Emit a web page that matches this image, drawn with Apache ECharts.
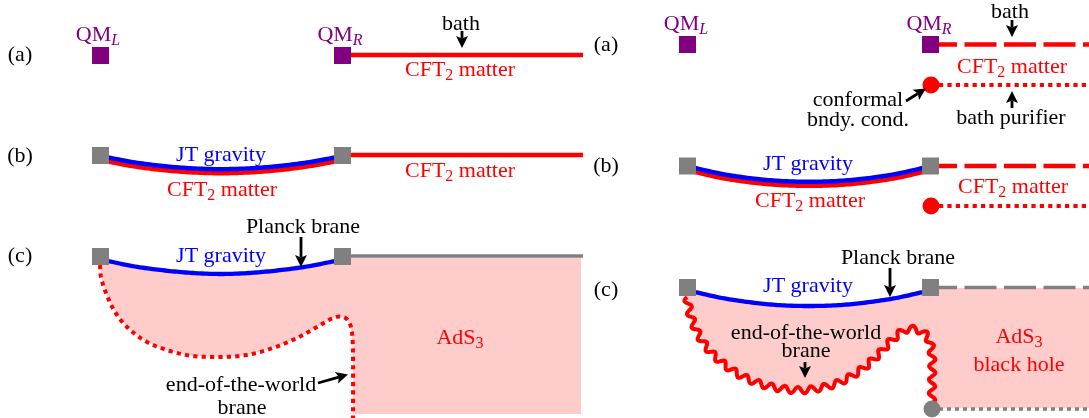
<!DOCTYPE html>
<html><head><meta charset="utf-8">
<script src="https://cdn.jsdelivr.net/npm/echarts@6/dist/echarts.min.js"></script>
<style>html,body{margin:0;padding:0;background:#fff}#c{width:1089px;height:418px}</style>
</head><body><div id="c"></div>
<script>
// ---------- data (diagram coordinates, x right / y down) ----------
const squaresQM = [[100.5,55.5],[342.5,55.5],[687.5,44.5],[930.5,44.5]];
const squaresGray = [[100.5,155.5],[342.5,155.5],[100.5,256.5],[342.5,256.5],[687.5,166],[930.5,166],[687.5,287.5],[930.5,287.5]];
const dotsRed = [[931,85],[931,206]];
const dotsGray = [[932,409]];

const bathLeftA = [[351,55],[583,55]];
const bathLeftB = [[351,155],[583,155]];
const boundaryLeftC = [[351,256],[583,256]];
const bathRightA = [[939,44.5],[1089,44.5]];
const purifierRightA = [[939,85],[1089,85]];
const bathRightB = [[939,166],[1089,166]];
const purifierRightB = [[939,206],[1089,206]];
const boundaryRightC = [[939,287.5],[1089,287.5]];
const horizonRightC = [[939,409],[1089,409]];

const jtLeftB = [[108,157.5],[135,162.5],[165,166.3],[193,168.4],[221,169.2],[249,168.4],[277,166.3],[307,162.5],[335,157.5]];
const matterLeftB = [[108,161.5],[135,166.5],[165,170.3],[193,172.4],[221,173.2],[249,172.4],[277,170.3],[307,166.5],[335,161.5]];
const jtRightB = [[695,168],[722,174],[752,178.5],[780,181],[809,181.8],[838,181],[866,178.5],[896,174],[923,168]];
const matterRightB = [[695,172],[722,178],[752,182.5],[780,185],[809,185.8],[838,185],[866,182.5],[896,178],[923,172]];
const jtLeftC = [[108,261],[135,266.5],[165,270.5],[193,273],[221,274],[249,273],[277,270.5],[307,266.5],[335,261]];
const jtRightC = [[695,292],[722,298],[752,302.5],[780,305.2],[809,306],[838,305.2],[866,302.5],[896,298],[923,292]];

const eowLeft = [[100,265],[101,277],[106,293],[115,312],[128,328],[147,342],[170,351],[193,356],[220,357],[247,355],[273,348],[297,338],[317,327],[333,318],[343,317],[349,322],[352,333],[353,357],[353,420]];
const eowRight = [[687,297],[692,320],[705,345],[725,365],[750,380],[778,388],[806,390],[835,384],[858,372],[876,357],[891,341],[905,330],[918,330],[928,338],[932,355],[932,385],[932,405]];

const pinkLeftCorners = [[342,258],[581,258],[581,414],[353,414]];
const pinkRightCorners = [[930,288],[1089,288],[1089,408],[934,408]];

const arrows = [
  [462,31,462,48],
  [301,237,301,267],
  [318,383,348,374.5],
  [1012,20,1012,37],
  [1012,108,1012,91],
  [906,101,926,88.5],
  [890,268,890,297],
  [805,362,805,378]
];

const panelLabels = ['(a)','(b)','(c)','(a)','(b)','(c)'];
const panelLabelPos = [[20,55],[20,156],[20,256],[606,45],[606,166],[606,290]];
const blackTexts = ['bath','Planck brane','end-of-the-world','brane','bath','conformal','bndy. cond.','bath purifier','Planck brane','end-of-the-world','brane'];
const blackTextPos = [[461,24],[303,227],[241,385],[242,408],[1010,12],[858,100],[858,120],[1011,118],[898,258],[806,333],[806,351]];
const redTexts = ['CFT{s|2} matter','CFT{s|2} matter','CFT{s|2} matter','CFT{s|2} matter','CFT{s|2} matter','CFT{s|2} matter','AdS{s|3}','AdS{s|3}','black hole'];
const redTextPos = [[460,70],[222,190],[460,171],[1012,67],[810,201],[1013,187],[460,338],[1019,337],[1019,365]];
const blueTexts = ['JT gravity','JT gravity','JT gravity','JT gravity'];
const blueTextPos = [[221,155],[221,256],[808,164],[808,286]];
const purpleTexts = ['QM{i|L}','QM{i|R}','QM{i|L}','QM{i|R}'];
const purpleTextPos = [[98,35],[340,35],[686,24],[929,24]];

// ---------- styling / rendering ----------
const FONT = '"Liberation Serif","Times New Roman",serif';
const FS = 22;
const RED = '#ff0000', BLUE = '#0000ff', GRAY = '#808080', PURPLE = '#800080', PINK = '#ffcccc';

function richFor(color){
  return {
    s:{fontSize:16,fontFamily:FONT,fill:color,padding:[11,0,0,0]},
    i:{fontSize:16,fontFamily:FONT,fontStyle:'italic',fill:color,padding:[11,0,0,0]}
  };
}
function textSeries(texts,pos,color){
  return {type:'custom',coordinateSystem:'cartesian2d',silent:true,z:20,animation:false,
    data:pos.map(p=>[p[0],p[1]]),
    renderItem(params,api){
      const c=api.coord([api.value(0),api.value(1)]);
      return {type:'text',x:c[0],y:c[1],style:{text:texts[params.dataIndex],fill:color,fontSize:FS,fontFamily:FONT,align:'center',verticalAlign:'middle',rich:richFor(color)}};
    }};
}
function lineSeries(data,style,z){
  return {type:'line',data:data,showSymbol:false,symbol:'none',silent:true,animation:false,z:z||3,lineStyle:style};
}
function catmull(base,steps){
  const out=[];
  for(let i=0;i<base.length-1;i++){
    const p0=base[Math.max(i-1,0)],p1=base[i],p2=base[i+1],p3=base[Math.min(i+2,base.length-1)];
    for(let k=0;k<steps;k++){
      const t=k/steps,t2=t*t,t3=t2*t;
      const f=j=>0.5*((2*p1[j])+(-p0[j]+p2[j])*t+(2*p0[j]-5*p1[j]+4*p2[j]-p3[j])*t2+(-p0[j]+3*p1[j]-3*p2[j]+p3[j])*t3);
      out.push([f(0),f(1)]);
    }
  }
  out.push(base[base.length-1]);
  return out;
}
function curveSeries(data,style,z){
  return {type:'custom',coordinateSystem:'cartesian2d',silent:true,z:z||4,animation:false,data:[[0,0]],
    renderItem(params,api){
      const pts=catmull(data.map(p=>api.coord(p)),12);
      return {type:'polyline',shape:{points:pts},style:Object.assign({fill:null,lineJoin:'round',lineCap:'butt'},style)};
    }};
}
function polySeries(getPts){
  return {type:'custom',coordinateSystem:'cartesian2d',silent:true,z:1,animation:false,data:[[0,0]],
    renderItem(params,api){
      const pts=getPts().map(p=>api.coord(p));
      return {type:'polygon',shape:{points:pts},style:{fill:PINK}};
    }};
}

const option = {
  animation:false,
  grid:{left:0,right:0,top:0,bottom:0},
  xAxis:{type:'value',min:0,max:1089,show:false},
  yAxis:{type:'value',min:0,max:418,inverse:true,show:false},
  series:[
    polySeries(()=>[[100,262]].concat(jtLeftC,pinkLeftCorners,eowLeft.slice(0,-1).reverse())),
    polySeries(()=>[[687,293]].concat(jtRightC,pinkRightCorners,eowRight.slice().reverse())),

    lineSeries(bathLeftA,{color:RED,width:4.3}),
    lineSeries(bathLeftB,{color:RED,width:4.3}),
    lineSeries(boundaryLeftC,{color:GRAY,width:3.5}),
    lineSeries(bathRightA,{color:RED,width:4.3,type:[32,7.5],dashOffset:14,cap:'butt'}),
    lineSeries(purifierRightA,{color:RED,width:4,type:[4.2,4.2],cap:'butt'}),
    lineSeries(bathRightB,{color:RED,width:4.3,type:[32,7.5],dashOffset:14,cap:'butt'}),
    lineSeries(purifierRightB,{color:RED,width:4,type:[4.2,4.2],cap:'butt'}),
    lineSeries(boundaryRightC,{color:GRAY,width:3.5,type:[32,7.5],dashOffset:14,cap:'butt'}),
    lineSeries(horizonRightC,{color:GRAY,width:3.5,type:[4,4],cap:'butt'}),

    curveSeries(matterLeftB,{stroke:RED,lineWidth:4.5},3),
    curveSeries(jtLeftB,{stroke:BLUE,lineWidth:4.5},4),
    curveSeries(matterRightB,{stroke:RED,lineWidth:4.5},3),
    curveSeries(jtRightB,{stroke:BLUE,lineWidth:4.5},4),
    curveSeries(jtLeftC,{stroke:BLUE,lineWidth:4.3},4),
    curveSeries(jtRightC,{stroke:BLUE,lineWidth:4.3},4),
    curveSeries(eowLeft,{stroke:RED,lineWidth:4,lineDash:[4.2,4.2]},4),

    {type:'custom',coordinateSystem:'cartesian2d',silent:true,z:4,animation:false,data:[[0,0]],
      renderItem(params,api){
        const base=eowRight.map(p=>api.coord(p));
        const dense=catmull(base,24);
        const out=[];let s=0;const A=3.2,LAM=13.5;
        for(let i=0;i<dense.length;i++){
          if(i>0)s+=Math.hypot(dense[i][0]-dense[i-1][0],dense[i][1]-dense[i-1][1]);
          const a=dense[Math.max(i-1,0)],b=dense[Math.min(i+1,dense.length-1)];
          let tx=b[0]-a[0],ty=b[1]-a[1];const L=Math.hypot(tx,ty)||1;tx/=L;ty/=L;
          const off=A*Math.sin(2*Math.PI*s/LAM);
          out.push([dense[i][0]-ty*off,dense[i][1]+tx*off]);
        }
        return {type:'polyline',shape:{points:out,smooth:0.3},style:{stroke:RED,lineWidth:4,fill:null,lineJoin:'round'}};
      }},

    {type:'scatter',data:squaresQM,symbol:'rect',symbolSize:17,itemStyle:{color:PURPLE,opacity:1},silent:true,z:8,animation:false},
    {type:'scatter',data:squaresGray,symbol:'rect',symbolSize:17,itemStyle:{color:GRAY,opacity:1},silent:true,z:8,animation:false},
    {type:'scatter',data:dotsRed,symbol:'circle',symbolSize:17,itemStyle:{color:RED,opacity:1},silent:true,z:8,animation:false},
    {type:'scatter',data:dotsGray,symbol:'circle',symbolSize:17,itemStyle:{color:GRAY,opacity:1},silent:true,z:8,animation:false},

    {type:'custom',coordinateSystem:'cartesian2d',silent:true,z:9,animation:false,
      data:arrows,dimensions:['x1','y1','x2','y2'],encode:{x:[0,2],y:[1,3]},
      renderItem(params,api){
        const a=api.coord([api.value(0),api.value(1)]),b=api.coord([api.value(2),api.value(3)]);
        const dx=b[0]-a[0],dy=b[1]-a[1],L=Math.hypot(dx,dy),ux=dx/L,uy=dy/L,nx=-uy,ny=ux;
        const hl=12,hw=6,notch=2.5;
        const bx=b[0]-ux*hl,by=b[1]-uy*hl;
        const mx=b[0]-ux*(hl-notch),my=b[1]-uy*(hl-notch);
        return {type:'group',children:[
          {type:'line',shape:{x1:a[0],y1:a[1],x2:mx,y2:my},style:{stroke:'#000',lineWidth:2.8}},
          {type:'polygon',shape:{points:[[b[0],b[1]],[bx+nx*hw,by+ny*hw],[mx,my],[bx-nx*hw,by-ny*hw]]},style:{fill:'#000'}}
        ]};
      }},

    textSeries(panelLabels,panelLabelPos,'#000'),
    textSeries(blackTexts,blackTextPos,'#000'),
    textSeries(redTexts,redTextPos,RED),
    textSeries(blueTexts,blueTextPos,BLUE),
    textSeries(purpleTexts,purpleTextPos,PURPLE)
  ]
};
const chart = echarts.init(document.getElementById('c'),null,{renderer:'canvas'});
chart.setOption(option);
</script></body></html>
